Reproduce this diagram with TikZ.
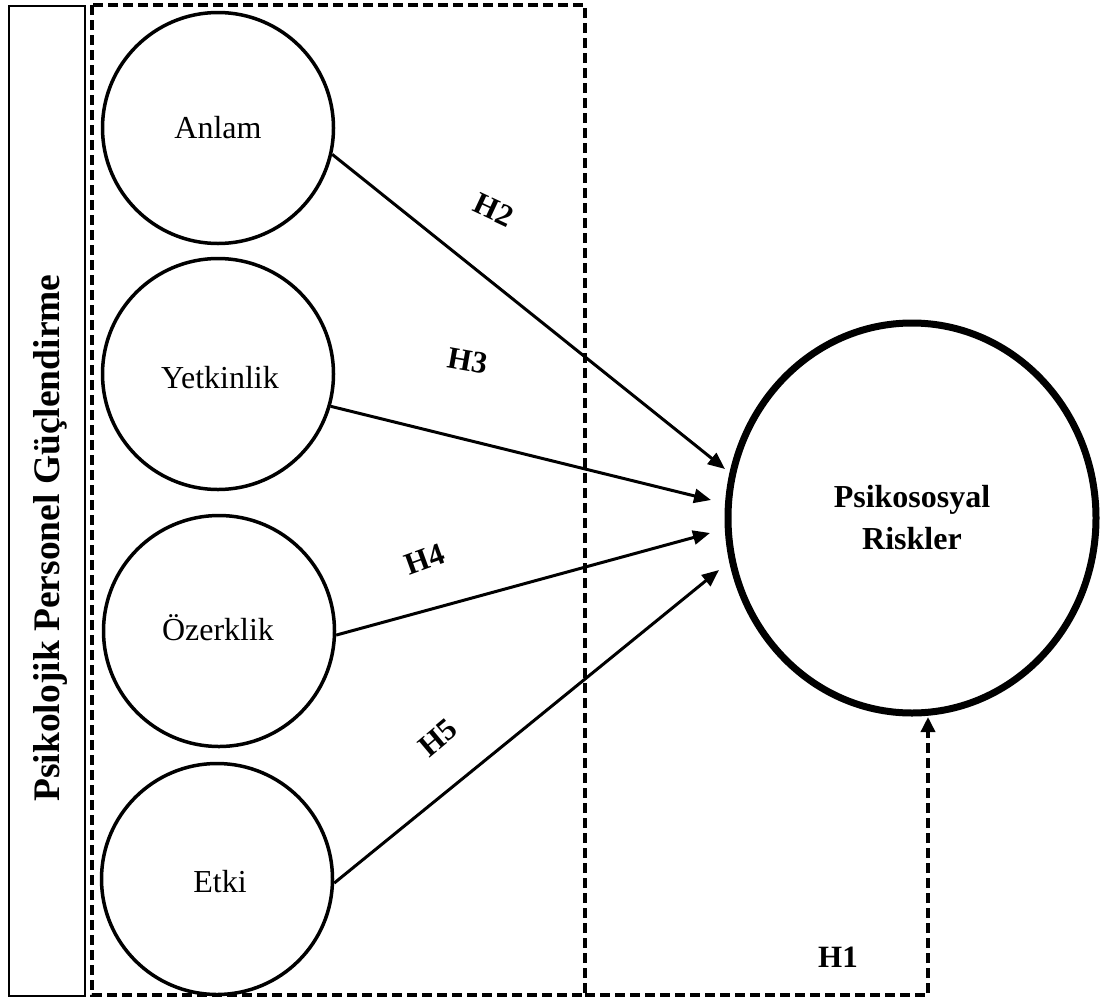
\documentclass[tikz,border=0pt]{standalone}
\usepackage{fontspec}
\setmainfont{Liberation Serif}
\usetikzlibrary{arrows.meta,shapes.geometric}
\begin{document}
\begin{tikzpicture}[x=1pt,y=-1pt,
  factor/.style={circle,draw,line width=3.5pt,minimum size=231pt,inner sep=0pt,
    font=\fontsize{32}{38}\selectfont},
  factortext/.style={font=\fontsize{32}{38}\selectfont,inner sep=0pt},
  outcome/.style={ellipse,draw,line width=7pt,minimum width=368pt,minimum height=390pt,
    inner sep=0pt,align=center,font=\fontsize{32}{42}\selectfont\bfseries},
  dashline/.style={dash pattern=on 10pt off 5pt,line width=3.5pt},
  link/.style={line width=3pt,-{Triangle[length=17pt,width=14pt]}},
  hlabel/.style={font=\fontsize{31}{36}\selectfont\bfseries,inner sep=0pt}]
\useasboundingbox (0,0) rectangle (1105,1001);

% construct panel with its vertical title
\node[draw,line width=1.8pt,minimum width=76pt,minimum height=990pt,anchor=north west,inner sep=0pt]
  (panel) at (8,5) {};
\node[rotate=90,font=\fontsize{37.5}{40}\selectfont\bfseries,inner sep=0pt]
  (title) at (50,538) {Psikolojik Personel Güçlendirme};

% dashed frame around the dimensions
\draw[dashline] (92,5) rectangle (585,995);

% dimensions
\node[factor] (anlam) at (218,128) {Anlam};
\node[factor] (yetkin) at (218,374) {};
\node[factortext] (yetkintxt) at (220,378) {Yetkinlik};
\node[factor] (ozerk) at (219,631) {};
\node[factortext] (ozerktxt) at (218,628) {Özerklik};
\node[factor] (etki) at (217,879) {};
\node[factortext] (etkitxt) at (220,882) {Etki};

% outcome
\node[outcome] (risk) at (912,518) {Psikososyal\\Riskler};

% arrow end points at the outcome
\coordinate (e2) at (725,469);
\coordinate (e3) at (711,500);
\coordinate (e4) at (710,533);
\coordinate (e5) at (719,570);

\draw[link] (anlam.-13) -- (e2);
\draw[link] (yetkin.-16) -- (e3);
\draw[link] (ozerk.-2) -- (e4);
\draw[link] (etki.-2) -- (e5);

\node[hlabel,rotate=-25] (h2) at (494,210) {H2};
\node[hlabel,rotate=-10] (h3) at (468,361) {H3};
\node[hlabel,rotate=20] (h4) at (425,559) {H4};
\node[hlabel,rotate=40] (h5) at (438,738) {H5};

% direct path H1
\coordinate (h1a) at (585,995);
\coordinate (h1b) at (928,995);
\coordinate (h1c) at (928,717);
\draw[dashline,-{Triangle[length=15pt,width=14pt]}] (h1a) -- (h1b) -- (h1c);
\node[hlabel] (h1) at (838,957) {H1};
\end{tikzpicture}
\end{document}
